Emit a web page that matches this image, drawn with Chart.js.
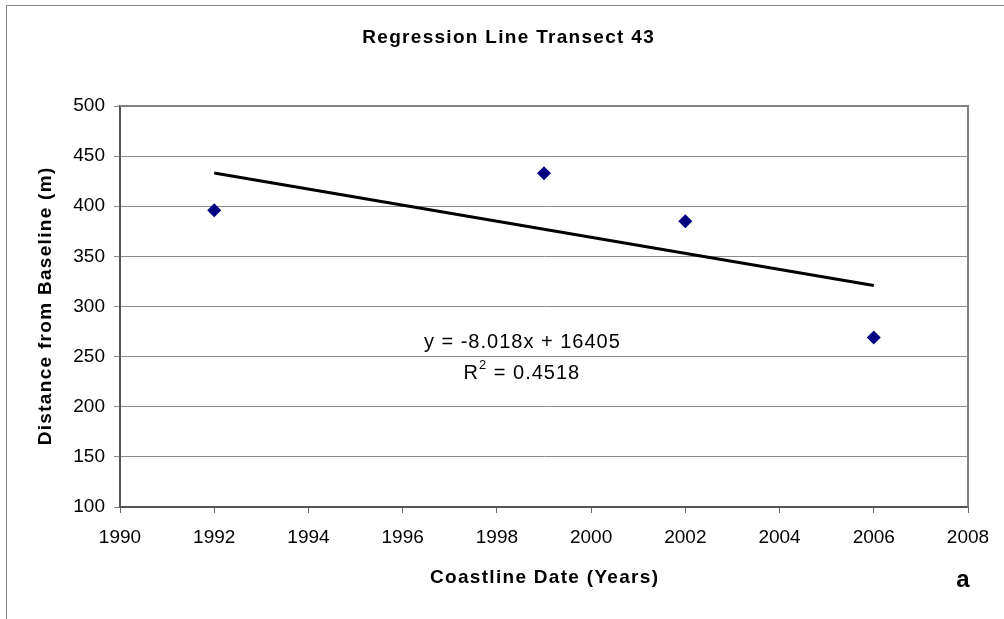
<!DOCTYPE html>
<html>
<head>
<meta charset="utf-8">
<script src="https://cdn.jsdelivr.net/npm/chart.js@4/dist/chart.umd.min.js"></script>
<style>
    html, body { margin: 0; padding: 0; background: #fff; }
    #wrap { position: absolute; left: 0; top: 0; width: 1004px; height: 619px; }
    #frame {
        position: absolute; left: 6px; top: 5px; right: -4px; bottom: -4px;
        border-top: 1px solid #8a8a8a; border-left: 1px solid #8a8a8a;
        pointer-events: none;
    }
</style>
</head>
<body>
<div id="wrap">
    <canvas id="regChart" width="1004" height="619"></canvas>
    <div id="frame"></div>
</div>
<script>
// Observed shoreline positions
const years = [1992, 1999, 2002, 2006];
const distances = [396, 433, 385, 269];

// Trendline end points
const trendYears = [1992, 2006];
const trendValues = [433.1, 320.9];

const chartTitle = "Regression Line Transect 43";
const xTitle = "Coastline Date (Years)";
const yTitle = "Distance from Baseline (m)";
const equationLines = ["y = -8.018x + 16405", " = 0.4518"];

const FONT = "'Liberation Sans', Arial, sans-serif";

// Excel-style spaced text (Chart.js can't letter-space its own titles)
function spacedText(ctx, text, x, y, font, spacing) {
    ctx.font = font;
    ctx.letterSpacing = spacing + "px";
    const w = ctx.measureText(text).width - spacing;
    ctx.textAlign = "left";
    ctx.fillText(text, x - w / 2, y);
    ctx.letterSpacing = "0px";
}

const extras = {
    id: "extras",
    afterDraw(chart) {
        const { ctx, chartArea, scales } = chart;
        ctx.save();

        // top + right edges of the plot box
        ctx.strokeStyle = "#808080";
        ctx.lineWidth = 2;
        ctx.beginPath();
        ctx.moveTo(chartArea.left, chartArea.top);
        ctx.lineTo(chartArea.right, chartArea.top);
        ctx.lineTo(chartArea.right, chartArea.bottom);
        ctx.stroke();

        ctx.fillStyle = "#000";
        ctx.textBaseline = "middle";
        const bold = "bold 19px " + FONT;
        const midX = (chartArea.left + chartArea.right) / 2;
        const midY = (chartArea.top + chartArea.bottom) / 2;

        spacedText(ctx, chartTitle, chart.width / 2 + 6, 38, bold, 1.3);
        spacedText(ctx, xTitle, midX, 578, bold, 1.3);
        ctx.save();
        ctx.translate(46, midY);
        ctx.rotate(-Math.PI / 2);
        spacedText(ctx, yTitle, 0, 0, bold, 1.3);
        ctx.restore();

        // equation label anchored in data space
        const cx = scales.x.getPixelForValue(1998.53);
        spacedText(ctx, equationLines[0], cx, scales.y.getPixelForValue(264), "20px " + FONT, 1);
        const y2 = scales.y.getPixelForValue(233);
        ctx.font = "20px " + FONT;
        ctx.letterSpacing = "1px";
        const wR = ctx.measureText("R").width;
        const wRest = ctx.measureText(equationLines[1]).width;
        ctx.font = "13px " + FONT;
        const wSup = ctx.measureText("2").width;
        const x0 = cx - (wR + wSup + wRest) / 2;
        ctx.textAlign = "left";
        ctx.font = "20px " + FONT;
        ctx.fillText("R", x0, y2);
        ctx.font = "13px " + FONT;
        ctx.fillText("2", x0 + wR, y2 - 8);
        ctx.font = "20px " + FONT;
        ctx.fillText(equationLines[1], x0 + wR + wSup, y2);
        ctx.letterSpacing = "0px";

        ctx.font = "bold 24px " + FONT;
        ctx.textAlign = "center";
        ctx.fillText("a", 963, 580);
        ctx.restore();
    }
};

const ctx = document.getElementById("regChart").getContext("2d");
new Chart(ctx, {
    type: "scatter",
    data: {
        datasets: [
            {
                label: "Distance",
                data: years.map((y, i) => ({ x: y, y: distances[i] })),
                pointStyle: "rectRot",
                pointRadius: 7,
                backgroundColor: "#000080",
                borderColor: "#000080",
                borderWidth: 0,
            },
            {
                label: "Linear",
                data: trendYears.map((y, i) => ({ x: y, y: trendValues[i] })),
                showLine: true,
                pointRadius: 0,
                borderColor: "#000",
                borderWidth: 3,
            },
        ],
    },
    options: {
        responsive: false,
        animation: false,
        layout: { padding: { left: 0, right: 36, top: 106, bottom: 0 } },
        plugins: {
            legend: { display: false },
            tooltip: { enabled: false },
            title: { display: false },
        },
        scales: {
            x: {
                type: "linear",
                min: 1990,
                max: 2008,
                afterFit: (s) => { s.height = 112; },
                ticks: {
                    stepSize: 2,
                    color: "#000",
                    font: { family: FONT, size: 19 },
                    padding: 13,
                    maxRotation: 0,
                    callback: (v) => String(v),
                },
                grid: { drawOnChartArea: false, color: "#666", tickLength: 6 },
                border: { color: "#555", width: 2 },
            },
            y: {
                min: 100,
                max: 500,
                afterFit: (s) => { s.width = 120; },
                ticks: {
                    stepSize: 50,
                    color: "#000",
                    font: { family: FONT, size: 19 },
                    padding: 9,
                },
                grid: { color: "#8c8c8c", lineWidth: 1, tickLength: 6 },
                border: { color: "#555", width: 2 },
            },
        },
    },
    plugins: [extras],
});
</script>
</body>
</html>
